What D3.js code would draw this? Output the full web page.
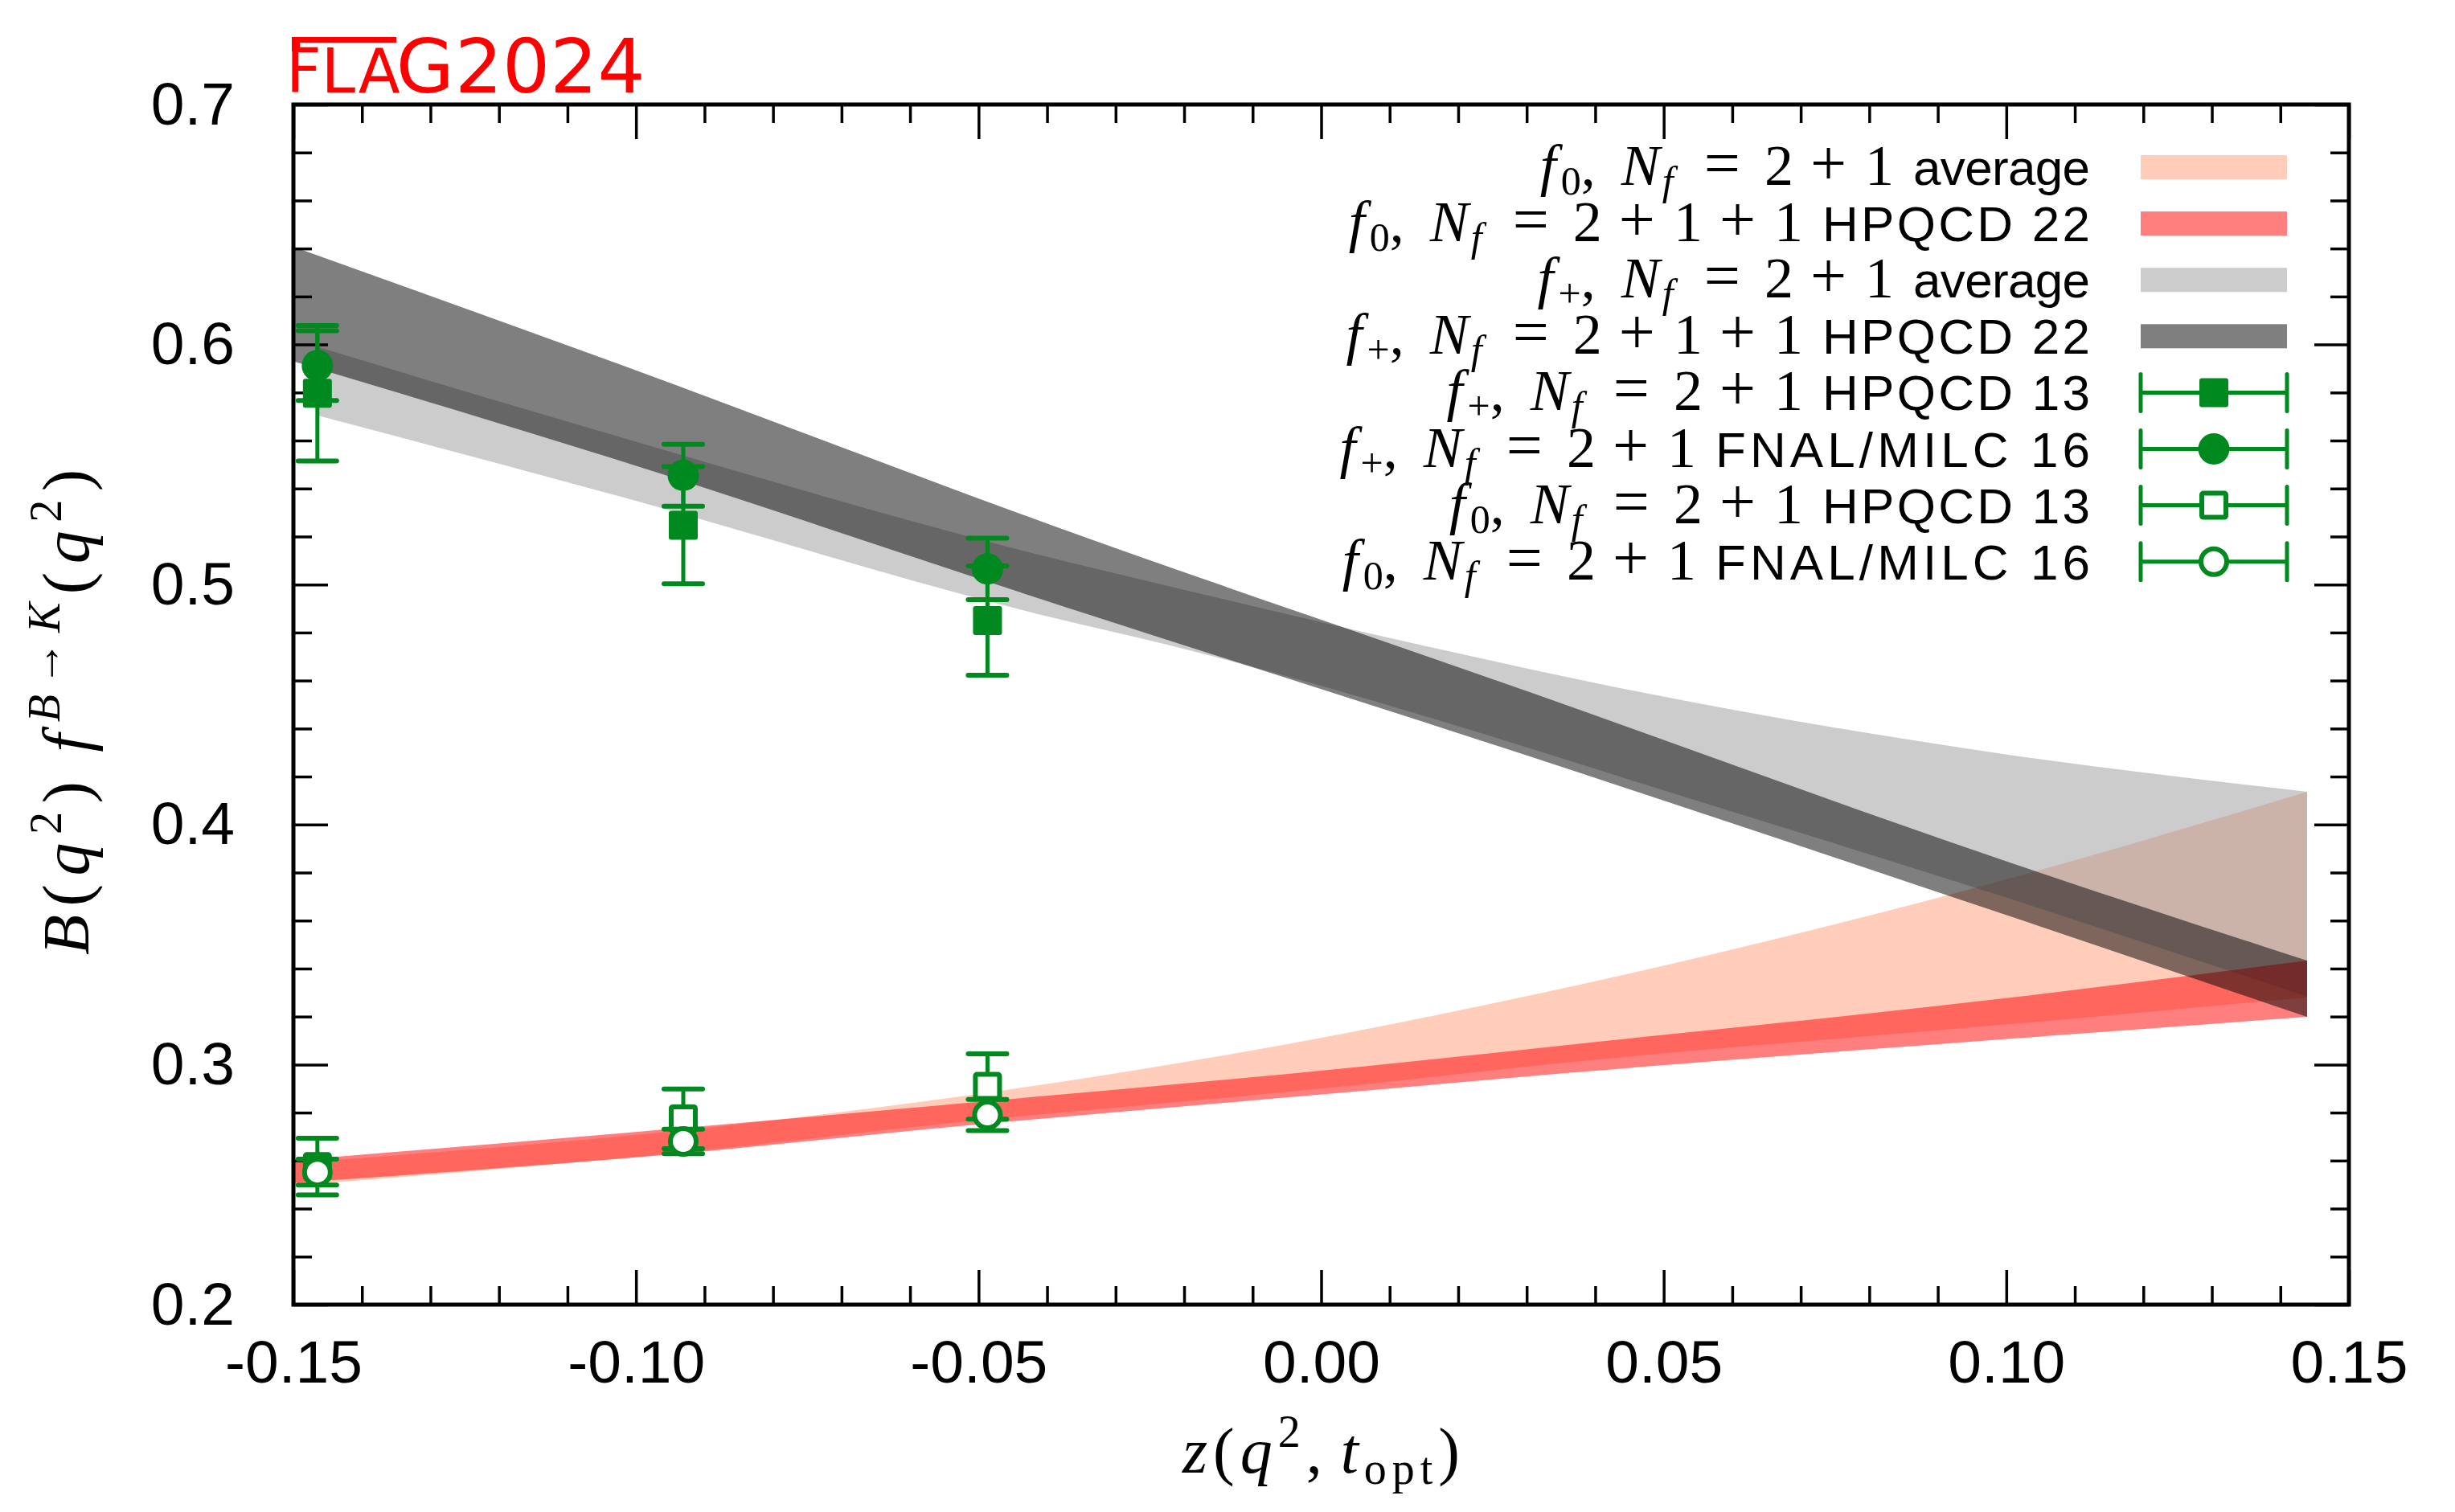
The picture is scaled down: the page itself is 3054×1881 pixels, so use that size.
<!DOCTYPE html>
<html><head><meta charset="utf-8">
<script src="https://cdn.jsdelivr.net/npm/d3@7"></script>
<style>body{margin:0;background:#fff}</style>
</head><body>
<svg id="chart" width="3054" height="1881"></svg>
<script>
// ---------- data ----------
const zPoints = [-0.1465, -0.0931, -0.0487];
const fplusHPQCD13 = [0.5797, 0.5247, 0.4850];
const fplusHPQCD13Err = [0.0282, 0.0244, 0.0228];
const fplusFNAL16 = [0.5912, 0.5455, 0.5065];
const fplusFNAL16Err = [0.0145, 0.0129, 0.0128];
const fzeroHPQCD13 = [0.2575, 0.2774, 0.2909];
const fzeroHPQCD13Err = [0.0118, 0.0124, 0.0136];
const fzeroFNAL16 = [0.2552, 0.2680, 0.2790];
const fzeroFNAL16Err = [0.0054, 0.0051, 0.0065];

// f0, Nf=2+1 average band
const f0AvgZ  = [-0.15, -0.0895, -0.0578, 0.0032, 0.036, 0.1017, 0.1439];
const f0AvgLo = [0.2496, 0.2645, 0.2745, 0.2909, 0.3009, 0.3171, 0.3280];
const f0AvgHi = [0.2590, 0.2738, 0.2847, 0.3129, 0.3322, 0.3785, 0.4137];
// f+, Nf=2+1 average band
const fpAvgZ  = [-0.1465, -0.1036, -0.0402, -0.0226, 0.0301, 0.0402, 0.1005, 0.1439];
const fpAvgLo = [0.5705, 0.5377, 0.4869, 0.4750, 0.4321, 0.4230, 0.3691, 0.3283];
const fpAvgHi = [0.5990, 0.5625, 0.5117, 0.4996, 0.4650, 0.4589, 0.4290, 0.4137];
// f0, Nf=2+1+1 HPQCD 22 band
const f0H22Z  = [-0.15, -0.0895, -0.0578, 0.0032, 0.036, 0.1017, 0.1439];
const f0H22Lo = [0.2507, 0.2640, 0.2730, 0.2883, 0.2965, 0.3110, 0.3199];
const f0H22Hi = [0.2602, 0.2745, 0.2825, 0.2984, 0.3082, 0.3283, 0.3433];
// f+, Nf=2+1+1 HPQCD 22 band
const fpH22Z  = [-0.15, -0.1036, -0.0402, 0.0301, 0.1005, 0.1439];
const fpH22Lo = [0.5930, 0.5527, 0.4933, 0.4287, 0.3618, 0.3199];
const fpH22Hi = [0.6407, 0.5930, 0.5256, 0.4555, 0.3842, 0.3433];

const xMajorTicks = [-0.15, -0.10, -0.05, 0.00, 0.05, 0.10, 0.15];
const xTickLabels = ['-0.15', '-0.10', '-0.05', '0.00', '0.05', '0.10', '0.15'];
const yMajorTicks = [0.2, 0.3, 0.4, 0.5, 0.6, 0.7];
const yTickLabels = ['0.2', '0.3', '0.4', '0.5', '0.6', '0.7'];

const legendSub  = ['0', '0', '+', '+', '+', '+', '0', '0'];
const legendNf   = [['2','1'], ['2','1','1'], ['2','1'], ['2','1','1'], ['2','1'], ['2','1'], ['2','1'], ['2','1']];
const legendWord = ['average', 'HPQCD 22', 'average', 'HPQCD 22', 'HPQCD 13', 'FNAL/MILC 16', 'HPQCD 13', 'FNAL/MILC 16'];
const legendKind = ['f0avg', 'f0H22', 'fpavg', 'fpH22', 'sqFill', 'ciFill', 'sqOpen', 'ciOpen'];

// ---------- drawing ----------
const W = 3054, H = 1881;
const L = 365, R = 2922, T = 130, B = 1623;
const GREEN = '#00891f';
const SERIF = "'Liberation Serif', 'DejaVu Serif', serif";
const SANS = "'Liberation Sans', Arial, sans-serif";
const wordWidth = {'average': 220, 'HPQCD 22': 333, 'HPQCD 13': 333, 'FNAL/MILC 16': 466};

const x = d3.scaleLinear().domain([-0.15, 0.15]).range([L, R]);
const y = d3.scaleLinear().domain([0.2, 0.7]).range([B, T]);
const svg = d3.select('#chart');
svg.append('rect').attr('width', W).attr('height', H).attr('fill', '#fff');
svg.append('defs').append('clipPath').attr('id', 'clip')
  .append('rect').attr('x', L).attr('y', T).attr('width', R - L).attr('height', B - T);

const bandStyle = {
  f0avg: {fill: '#ffcdba', op: 1},
  fpavg: {fill: '#999999', op: 0.5},
  f0H22: {fill: '#ff0000', op: 0.5},
  fpH22: {fill: '#000000', op: 0.5}
};
const toRows = (zs, lo, hi) => zs.map((z, i) => ({z, lo: lo[i], hi: hi[i]}));
const bands = [
  ['f0avg', toRows(f0AvgZ, f0AvgLo, f0AvgHi)],
  ['fpavg', toRows(fpAvgZ, fpAvgLo, fpAvgHi)],
  ['f0H22', toRows(f0H22Z, f0H22Lo, f0H22Hi)],
  ['fpH22', toRows(fpH22Z, fpH22Lo, fpH22Hi)]
];
const area = d3.area().x(d => x(d.z)).y0(d => y(d.lo)).y1(d => y(d.hi)).curve(d3.curveMonotoneX);
const gB = svg.append('g').attr('clip-path', 'url(#clip)');
bands.forEach(([k, rows]) => {
  gB.append('path').attr('d', area(rows)).attr('fill', bandStyle[k].fill).attr('fill-opacity', bandStyle[k].op);
});

// axes
function styleAxis(g) {
  g.select('.domain').remove();
  g.selectAll('.tick line').attr('stroke', '#000').attr('stroke-width', 3.5);
  g.selectAll('.tick text').attr('fill', '#000').attr('font-family', SANS).attr('font-size', 75);
}
const xMinor = x.ticks(30).filter(v => !xMajorTicks.some(m => Math.abs(m - v) < 1e-9));
const yMinor = y.ticks(25).filter(v => !yMajorTicks.some(m => Math.abs(m - v) < 1e-9));
const majorLen = 43, minorLen = 23;

svg.append('g').attr('transform', `translate(0,${B})`)
  .call(d3.axisBottom(x).tickValues(xMinor).tickSize(-minorLen).tickSizeOuter(0).tickFormat('')).call(styleAxis);
svg.append('g').attr('transform', `translate(0,${B})`)
  .call(d3.axisBottom(x).tickValues(xMajorTicks).tickSize(-majorLen).tickSizeOuter(0).tickPadding(44)
    .tickFormat((d, i) => xTickLabels[i])).call(styleAxis);
svg.append('g').attr('transform', `translate(0,${T})`)
  .call(d3.axisTop(x).tickValues(xMinor).tickSize(-minorLen).tickSizeOuter(0).tickFormat('')).call(styleAxis);
svg.append('g').attr('transform', `translate(0,${T})`)
  .call(d3.axisTop(x).tickValues(xMajorTicks).tickSize(-majorLen).tickSizeOuter(0).tickFormat('')).call(styleAxis);
svg.append('g').attr('transform', `translate(${L},0)`)
  .call(d3.axisLeft(y).tickValues(yMinor).tickSize(-minorLen).tickSizeOuter(0).tickFormat('')).call(styleAxis);
svg.append('g').attr('transform', `translate(${L},0)`)
  .call(d3.axisLeft(y).tickValues(yMajorTicks).tickSize(-majorLen).tickSizeOuter(0).tickPadding(73)
    .tickFormat((d, i) => yTickLabels[i])).call(styleAxis);
svg.append('g').attr('transform', `translate(${R},0)`)
  .call(d3.axisRight(y).tickValues(yMinor).tickSize(-minorLen).tickSizeOuter(0).tickFormat('')).call(styleAxis);
svg.append('g').attr('transform', `translate(${R},0)`)
  .call(d3.axisRight(y).tickValues(yMajorTicks).tickSize(-majorLen).tickSizeOuter(0).tickFormat('')).call(styleAxis);
svg.append('rect').attr('x', L).attr('y', T).attr('width', R - L).attr('height', B - T)
  .attr('fill', 'none').attr('stroke', '#000').attr('stroke-width', 5);

// markers
function marker(g, kind, cx, cy) {
  if (kind === 'sqFill') g.append('rect').attr('x', cx - 18).attr('y', cy - 18).attr('width', 36).attr('height', 36).attr('rx', 3).attr('fill', GREEN);
  if (kind === 'ciFill') g.append('circle').attr('cx', cx).attr('cy', cy).attr('r', 19.5).attr('fill', GREEN);
  if (kind === 'sqOpen') g.append('rect').attr('x', cx - 15).attr('y', cy - 15).attr('width', 30).attr('height', 30).attr('rx', 2).attr('fill', '#fff').attr('stroke', GREEN).attr('stroke-width', 6);
  if (kind === 'ciOpen') g.append('circle').attr('cx', cx).attr('cy', cy).attr('r', 16).attr('fill', '#fff').attr('stroke', GREEN).attr('stroke-width', 6);
}
function errorPoints(kind, vals, errs) {
  const g = svg.append('g');
  vals.forEach((v, i) => {
    const cx = x(zPoints[i]), y0 = y(v - errs[i]), y1 = y(v + errs[i]);
    g.append('line').attr('x1', cx).attr('x2', cx).attr('y1', y0).attr('y2', y1)
      .attr('stroke', GREEN).attr('stroke-width', 5);
    [y0, y1].forEach(yy => g.append('line').attr('x1', cx - 24).attr('x2', cx + 24).attr('y1', yy).attr('y2', yy)
      .attr('stroke', GREEN).attr('stroke-width', 6).attr('stroke-linecap', 'round'));
    marker(g, kind, cx, y(v));
  });
}
errorPoints('sqFill', fplusHPQCD13, fplusHPQCD13Err);
errorPoints('ciFill', fplusFNAL16, fplusFNAL16Err);
errorPoints('sqOpen', fzeroHPQCD13, fzeroHPQCD13Err);
errorPoints('ciOpen', fzeroFNAL16, fzeroFNAL16Err);

// legend
const legX0 = 2663, legX1 = 2845, legTextX = 2600, legY0 = 208, legDY = 70.1;
legendWord.forEach((word, i) => {
  const cy = legY0 + i * legDY;
  const ww = wordWidth[word];
  svg.append('text').attr('x', legTextX - ww).attr('y', cy + 22)
    .attr('font-family', SANS).attr('font-size', 62).attr('fill', '#000')
    .attr('textLength', ww).attr('lengthAdjust', 'spacing').text(word);
  const t = svg.append('text').attr('x', legTextX - ww - 24).attr('y', cy + 22).attr('text-anchor', 'end')
    .attr('font-family', SERIF).attr('font-size', 72).attr('fill', '#000');
  t.append('tspan').attr('font-style', 'italic').text('f');
  t.append('tspan').attr('font-size', 50).attr('dx', 6).attr('dy', 12).text(legendSub[i]);
  t.append('tspan').attr('dy', -12).text(',');
  t.append('tspan').attr('font-style', 'italic').attr('dx', 32).text('N');
  t.append('tspan').attr('font-style', 'italic').attr('font-size', 50).attr('dx', 3).attr('dy', 12).text('f');
  t.append('tspan').attr('dy', -12).attr('dx', 38).attr('font-size', 80).text('=');
  legendNf[i].forEach((n, j) => {
    if (j > 0) t.append('tspan').attr('dx', 21).attr('font-size', 80).text('+');
    t.append('tspan').attr('dx', j === 0 ? 30 : 23).text(n);
  });

  const k = legendKind[i];
  if (bandStyle[k]) {
    svg.append('rect').attr('x', legX0).attr('y', cy - 15).attr('width', legX1 - legX0).attr('height', 30)
      .attr('fill', bandStyle[k].fill).attr('fill-opacity', bandStyle[k].op);
  } else {
    const g = svg.append('g');
    g.append('line').attr('x1', legX0).attr('x2', legX1).attr('y1', cy).attr('y2', cy).attr('stroke', GREEN).attr('stroke-width', 5);
    [legX0, legX1].forEach(xx => g.append('line').attr('x1', xx).attr('x2', xx).attr('y1', cy - 23).attr('y2', cy + 23)
      .attr('stroke', GREEN).attr('stroke-width', 5).attr('stroke-linecap', 'round'));
    marker(g, k, (legX0 + legX1) / 2, cy);
  }
});

// title FLAG2024 (FLA smaller under an overline)
const title = svg.append('text').attr('x', 356).attr('y', 115).attr('fill', '#ff0000')
  .attr('font-family', "'DejaVu Sans', sans-serif").attr('font-size', 93);
title.append('tspan').attr('font-size', 76).text('F');
title.append('tspan').attr('font-size', 76).attr('dx', 0).text('L');
title.append('tspan').attr('font-size', 76).attr('dx', 2).text('A');
title.append('tspan').attr('dx', -5).text('G');
title.append('tspan').attr('dx', 1).text('2024');
svg.append('rect').attr('x', 363).attr('y', 46).attr('width', 130).attr('height', 7).attr('fill', '#ff0000');
svg.append('rect').attr('x', 363).attr('y', 46).attr('width', 10).attr('height', 18).attr('fill', '#ff0000');

// axis titles
const xl = svg.append('text').attr('x', (L + R) / 2).attr('y', 1832).attr('text-anchor', 'middle')
  .attr('font-family', SERIF).attr('font-size', 80).attr('fill', '#000')
  .attr('textLength', 345).attr('lengthAdjust', 'spacing');
xl.append('tspan').attr('font-style', 'italic').text('z');
xl.append('tspan').text('(');
xl.append('tspan').attr('font-style', 'italic').text('q');
xl.append('tspan').attr('font-size', 56).attr('dy', -32).text('2');
xl.append('tspan').attr('dy', 32).text(',');
xl.append('tspan').attr('font-style', 'italic').attr('dx', 16).text('t');
xl.append('tspan').attr('font-size', 56).attr('dy', 14).text('opt');
xl.append('tspan').attr('dy', -14).text(')');

const yl = svg.append('text').attr('transform', 'translate(110,886) rotate(-90)').attr('text-anchor', 'middle')
  .attr('font-family', SERIF).attr('font-size', 82).attr('fill', '#000')
  .attr('textLength', 604).attr('lengthAdjust', 'spacing');
yl.append('tspan').attr('font-style', 'italic').text('B');
yl.append('tspan').text('(');
yl.append('tspan').attr('font-style', 'italic').text('q');
yl.append('tspan').attr('font-size', 56).attr('dy', -34).text('2');
yl.append('tspan').attr('dy', 34).text(')');
yl.append('tspan').attr('font-style', 'italic').attr('dx', 26).text('f');
yl.append('tspan').attr('font-size', 56).attr('font-style', 'italic').attr('dy', -36).attr('dx', 4).text('B');
yl.append('tspan').attr('font-size', 56).text('→');
yl.append('tspan').attr('font-size', 56).attr('font-style', 'italic').text('K');
yl.append('tspan').attr('dy', 36).text('(');
yl.append('tspan').attr('font-style', 'italic').text('q');
yl.append('tspan').attr('font-size', 56).attr('dy', -34).text('2');
yl.append('tspan').attr('dy', 34).text(')');
</script>
</body></html>
